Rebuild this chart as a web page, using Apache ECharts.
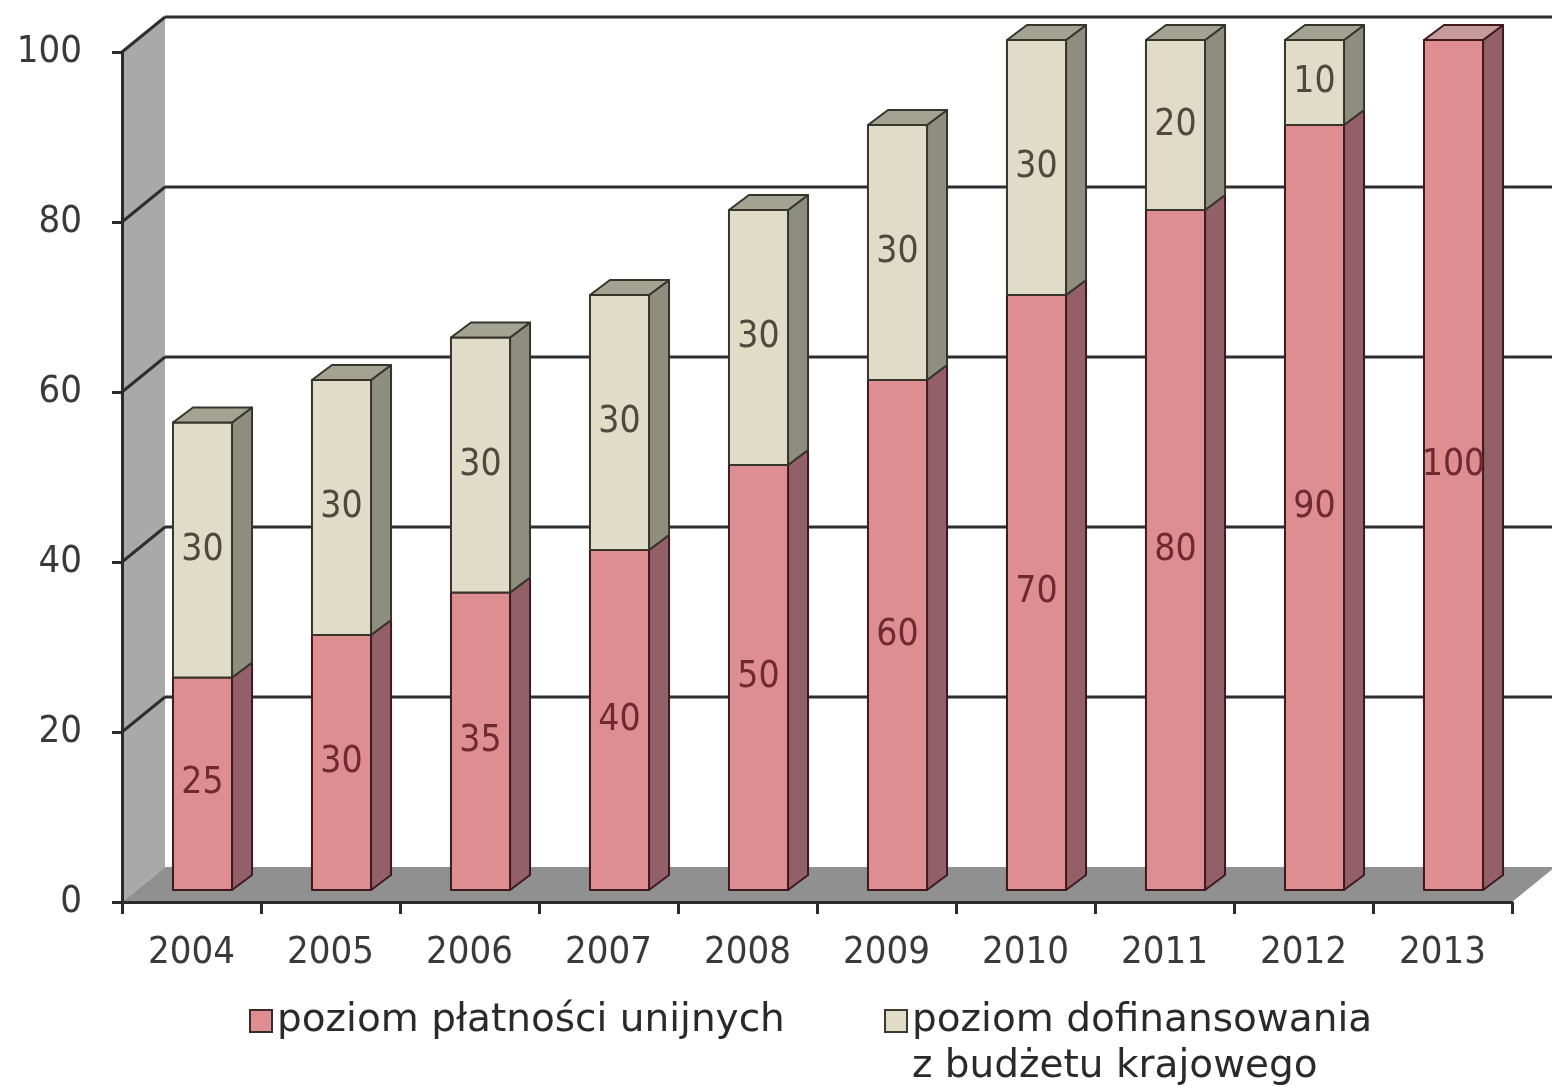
<!DOCTYPE html>
<html><head><meta charset="utf-8">
<script src="https://cdn.jsdelivr.net/npm/echarts@6/dist/echarts.min.js"></script>
<style>html,body{margin:0;padding:0;background:#fff}#c{width:1552px;height:1087px}</style>
</head><body><div id="c"></div>
<script>
// ---- data ----
const years = ['2004','2005','2006','2007','2008','2009','2010','2011','2012','2013'];
const euPayments = [25, 30, 35, 40, 50, 60, 70, 80, 90, 100];
const nationalTopUp = [30, 30, 30, 30, 30, 30, 30, 20, 10, 0];
const yTicks = [0, 20, 40, 60, 80, 100];
const nameEU = 'poziom płatności unijnych';
const nameNat = 'poziom dofinansowania\nz budżetu krajowego';

// ---- style ----
const FONT = "'DejaVu Sans Condensed','Liberation Sans',sans-serif";
const LFONT = "'DejaVu Sans','Liberation Sans',sans-serif";
const WALL = {dx: 43, dy: -35};
const BAR = {dx: 11, dy: -12, sx: 20, sy: -15, w: 0.425};
const PINK = {front: '#de8d90', side: '#93606a', top: '#c79a9c', stroke: '#3e1a1c', label: '#6e2a30'};
const BEIGE = {front: '#e0dcc8', side: '#8e8e7e', top: '#a4a392', stroke: '#35352c', label: '#4e4a3c'};

function barRenderer(pal) {
  return function (params, api) {
    const i = api.value(0), lo = api.value(1), hi = api.value(2), isTop = api.value(3);
    if (hi - lo <= 0) return;
    const p0 = api.coord([i, lo]), p1 = api.coord([i, hi]);
    const bw = api.size([1, 0])[0] * BAR.w;
    const x0 = p0[0] + BAR.dx - bw / 2, x1 = x0 + bw;
    const yb = p0[1] + BAR.dy, yt = p1[1] + BAR.dy;
    const ls = {stroke: pal.stroke, lineWidth: 2, lineJoin: 'round'};
    const children = [
      {type: 'polygon', shape: {points: [[x1, yt], [x1 + BAR.sx, yt + BAR.sy], [x1 + BAR.sx, yb + BAR.sy], [x1, yb]]},
       style: Object.assign({fill: pal.side}, ls)},
      {type: 'rect', shape: {x: x0, y: yt, width: bw, height: yb - yt},
       style: Object.assign({fill: pal.front}, ls)}
    ];
    if (isTop) {
      children.push({type: 'polygon', shape: {points: [[x0, yt], [x0 + BAR.sx, yt + BAR.sy], [x1 + BAR.sx, yt + BAR.sy], [x1, yt]]},
        style: Object.assign({fill: pal.top}, ls)});
    }
    children.push({type: 'text', style: {text: String(hi - lo), x: (x0 + x1) / 2, y: (yb + yt) / 2,
      align: 'center', verticalAlign: 'middle', fill: pal.label, font: '37px ' + FONT}});
    return {type: 'group', children: children};
  };
}

function decoRenderer(params, api) {
  const cs = params.coordSys;
  const v = api.value(1);
  const p = api.coord([0, v]);
  const left = cs.x, right = cs.x + cs.width;
  const children = [];
  if (params.dataIndex === 0) {
    const top = api.coord([0, yTicks[yTicks.length - 1]])[1];
    const bot = p[1];
    children.push({type: 'polygon', shape: {points: [[left, top], [left + WALL.dx, top + WALL.dy], [left + WALL.dx, bot + WALL.dy], [left, bot]]},
      style: {fill: '#a9a9a9'}});
    children.push({type: 'polygon', shape: {points: [[left, bot], [right, bot], [right + WALL.dx, bot + WALL.dy], [left + WALL.dx, bot + WALL.dy]]},
      style: {fill: '#909090'}});
  } else {
    children.push({type: 'line', shape: {x1: left + WALL.dx, y1: p[1] + WALL.dy, x2: right + WALL.dx + 10, y2: p[1] + WALL.dy},
      style: {stroke: '#2e2e2e', lineWidth: 3}});
    children.push({type: 'line', shape: {x1: left, y1: p[1], x2: left + WALL.dx, y2: p[1] + WALL.dy},
      style: {stroke: '#2e2e2e', lineWidth: 3}});
  }
  return {type: 'group', children: children};
}

const chart = echarts.init(document.getElementById('c'), null, {renderer: 'canvas'});
chart.setOption({
  backgroundColor: '#ffffff',
  animation: false,
  grid: {left: 122, right: 40, top: 52, bottom: 185},
  legend: [
    {data: [nameEU], left: 244, top: 993, icon: 'rect', itemWidth: 22, itemHeight: 22, itemGap: 4,
     itemStyle: {borderColor: '#3a2a2a', borderWidth: 2},
     textStyle: {fontFamily: LFONT, fontSize: 39, color: '#2a2a2a', lineHeight: 46}},
    {data: [nameNat], left: 879, top: 947, icon: 'rect', itemWidth: 22, itemHeight: 22, itemGap: 4,
     formatter: function (n) { return '\n' + n; },
     itemStyle: {borderColor: '#3a3a30', borderWidth: 2},
     textStyle: {fontFamily: LFONT, fontSize: 39, color: '#2a2a2a', lineHeight: 46}}
  ],
  xAxis: {
    type: 'category', data: years, z: 5,
    axisLine: {lineStyle: {color: '#2a2a2a', width: 3}},
    axisTick: {show: true, length: 12, lineStyle: {color: '#2a2a2a', width: 3}},
    axisLabel: {fontFamily: FONT, fontSize: 38, color: '#3a3a3a', margin: 32}
  },
  yAxis: {
    type: 'value', min: 0, max: 100, interval: 20, z: 5,
    axisLine: {show: true, lineStyle: {color: '#2a2a2a', width: 3}},
    axisTick: {show: true, length: 10, lineStyle: {color: '#2a2a2a', width: 3}},
    axisLabel: {fontFamily: FONT, fontSize: 38, color: '#3a3a3a', margin: 40},
    splitLine: {show: false}
  },
  series: [
    {type: 'custom', name: 'deco', z: 1, silent: true, renderItem: decoRenderer,
     data: yTicks.map(v => [0, v]), encode: {x: 0, y: 1}},
    {type: 'custom', name: nameEU, z: 3, renderItem: barRenderer(PINK),
     itemStyle: {color: PINK.front},
     data: euPayments.map((v, i) => [i, 0, v, nationalTopUp[i] > 0 ? 0 : 1]), encode: {x: 0, y: 2}},
    {type: 'custom', name: nameNat, z: 4, renderItem: barRenderer(BEIGE),
     itemStyle: {color: BEIGE.front},
     data: nationalTopUp.map((v, i) => [i, euPayments[i], euPayments[i] + v, 1]), encode: {x: 0, y: 2}}
  ]
});
</script>
</body></html>
